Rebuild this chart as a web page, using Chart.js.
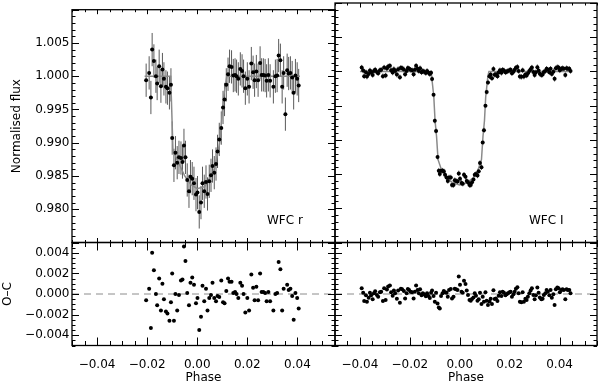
<!DOCTYPE html>
<html><head><meta charset="utf-8">
<script src="https://cdn.jsdelivr.net/npm/chart.js@4/dist/chart.umd.min.js"></script>
<style>
html,body{margin:0;padding:0;background:#fff;}
#wrap{position:relative;width:600px;height:381px;overflow:hidden;background:#fff;}
#wrap canvas{position:absolute;left:0;top:0;width:600px;height:381px;}
</style></head><body>
<div id="wrap">
<canvas id="tl" width="600" height="381"></canvas>
<canvas id="tr" width="600" height="381"></canvas>
<canvas id="bl" width="600" height="381"></canvas>
<canvas id="br" width="600" height="381"></canvas>
</div>
<script>
// ---------------- DATA ----------------
const rPhase = [-0.0204,-0.0192,-0.0185,-0.0180,-0.0173,-0.0165,-0.0160,-0.0152,-0.0145,-0.0139,
-0.0133,-0.0125,-0.0119,-0.0111,-0.0105,-0.0100,-0.0093,-0.0087,-0.0080,-0.0073,
-0.0065,-0.0059,-0.0053,-0.0047,-0.0040,-0.0033,-0.0027,-0.0020,-0.0013,-0.0005,
0.0001,0.0008,0.0015,0.0021,0.0028,0.0035,0.0041,0.0048,0.0055,0.0061,
0.0068,0.0075,0.0081,0.0088,0.0096,0.0103,0.0109,0.0116,0.0123,0.0129,
0.0137,0.0144,0.0151,0.0157,0.0164,0.0172,0.0179,0.0185,0.0192,0.0200,
0.0207,0.0216,0.0223,0.0229,0.0236,0.0243,0.0251,0.0257,0.0264,0.0271,
0.0277,0.0284,0.0291,0.0304,0.0312,0.0319,0.0325,0.0332,0.0339,0.0345,
0.0352,
0.0359,0.0365,0.0372,0.0379,0.0385,0.0392,0.0399,0.0405];
const rFlux = [0.9994,1.0005,0.9968,1.0040,1.0023,1.0000,0.9989,1.0015,0.9985,1.0010,
0.9996,0.9984,0.9982,0.9975,0.9987,0.9907,0.9866,0.9885,0.9870,0.9878,
0.9877,0.9871,0.9896,0.9878,0.9844,0.9827,0.9849,0.9846,0.9839,0.9822,
0.9825,0.9796,0.9810,0.9839,0.9827,0.9841,0.9823,0.9842,0.9851,0.9865,
0.9855,0.9868,0.9887,0.9905,0.9922,0.9953,0.9965,0.9987,1.0003,1.0015,
1.0014,1.0001,1.0002,1.0000,0.9996,1.0011,1.0008,1.0000,0.9982,0.9996,
0.9984,1.0019,1.0006,0.9994,1.0007,0.9994,1.0020,1.0002,1.0002,1.0001,
0.9993,1.0002,0.9993,0.9984,1.0000,1.0001,1.0031,1.0024,0.9984,1.0005,
0.9943,
1.0009,1.0004,1.0005,0.9998,0.9975,1.0001,0.9996,0.9986];
const rResid = [-0.0006,0.0005,-0.0033,0.0040,0.0023,0.0000,-0.0011,0.0015,-0.0016,0.0010,
-0.0005,-0.0017,-0.0019,-0.0026,-0.0008,0.0020,-0.0026,0.0000,-0.0016,-0.0001,
0.0013,0.0014,0.0046,0.0032,0.0001,-0.0011,0.0011,0.0016,0.0009,-0.0009,
-0.0004,-0.0035,-0.0022,0.0008,-0.0007,0.0005,-0.0016,-0.0004,-0.0001,0.0011,
-0.0004,-0.0007,-0.0002,-0.0003,0.0013,-0.0008,-0.0009,0.0003,0.0015,0.0012,
0.0012,0.0001,0.0002,0.0000,-0.0004,0.0011,0.0008,0.0000,-0.0018,-0.0004,
-0.0016,0.0019,0.0006,-0.0006,0.0007,-0.0006,0.0020,0.0002,0.0002,0.0001,
-0.0007,0.0002,-0.0007,-0.0016,0.0000,0.0001,0.0031,0.0024,-0.0016,0.0005,
-0.0057,
0.0009,0.0004,0.0005,-0.0002,-0.0025,0.0001,-0.0004,-0.0014];
const rErr = 0.0025;
const rModelPhase = [-0.0210,-0.0106,-0.0097,-0.0080,-0.0050,-0.0025,0.0000,0.0030,0.0050,0.0070,0.0090,0.0105,0.0118,0.0410];
const rModelFlux  = [1.0000,1.0000,0.9890,0.9874,0.9850,0.9837,0.9831,0.9834,0.9847,0.9862,0.9900,0.9968,1.0000,1.0000];

const iPhase = [-0.0393,-0.0387,-0.0383,-0.0376,-0.0372,-0.0365,-0.0360,-0.0355,-0.0349,-0.0344,
-0.0339,-0.0332,-0.0327,-0.0320,-0.0315,-0.0308,-0.0303,-0.0297,-0.0292,-0.0287,
-0.0280,-0.0275,-0.0269,-0.0264,-0.0259,-0.0252,-0.0247,-0.0240,-0.0236,-0.0231,
-0.0224,-0.0219,-0.0213,-0.0208,-0.0203,-0.0197,-0.0191,-0.0185,-0.0180,-0.0175,
-0.0169,-0.0164,-0.0159,-0.0153,-0.0148,-0.0143,-0.0136,-0.0131,-0.0125,-0.0120,
-0.0115,-0.0111,-0.0105,-0.0100,-0.0095,-0.0089,-0.0084,-0.0080,-0.0075,-0.0069,
-0.0064,-0.0059,-0.0053,-0.0048,-0.0043,-0.0036,-0.0031,-0.0025,-0.0020,-0.0015,
-0.0009,-0.0004,0.0001,0.0007,0.0012,0.0017,0.0023,0.0028,0.0033,0.0039,
0.0044,0.0049,0.0055,0.0060,0.0065,0.0071,0.0076,0.0081,0.0087,0.0092,
0.0097,0.0103,0.0108,0.0113,0.0119,0.0124,0.0129,0.0135,0.0140,0.0145,
0.0151,0.0156,0.0161,0.0167,0.0172,0.0177,0.0183,0.0188,0.0193,0.0199,
0.0204,0.0209,0.0215,0.0220,0.0225,0.0231,0.0236,0.0241,0.0247,0.0252,
0.0257,0.0263,0.0268,0.0273,0.0279,0.0284,0.0289,0.0295,0.0300,0.0305,
0.0311,0.0316,0.0321,0.0327,0.0332,0.0337,0.0343,0.0348,0.0353,0.0359,
0.0364,0.0369,0.0375,0.0380,0.0385,0.0391,0.0396,0.0401,0.0407,0.0412,
0.0417,0.0423,0.0428,0.0433,0.0439,0.0444];
const iFlux = [1.00056,1.00013,0.99931,0.99987,0.99925,0.99964,1.00013,0.99987,0.99948,1.00007,
1.00026,0.99990,0.99974,1.00016,1.00023,0.99931,1.00056,0.99941,1.00043,1.00072,
1.00082,1.00016,0.99984,1.00033,1.00007,0.99954,1.00033,0.99915,1.00052,1.00046,
1.00030,0.99957,1.00007,1.00049,1.00039,1.00023,1.00016,0.99957,1.00023,1.00082,
1.00039,1.00007,1.00046,0.99987,1.00007,0.99997,0.99977,1.00007,0.99980,0.99961,
0.9998,0.9989,0.9966,0.9928,0.9913,0.9875,0.9855,0.9850,0.9855,0.9855,
0.9854,0.9849,0.9845,0.9840,0.9845,0.9845,0.9834,0.9834,0.9841,0.9840,
0.9839,0.9851,0.9843,0.9837,0.9836,0.9849,0.9846,0.9840,0.9838,0.9834,
0.9834,0.9838,0.9842,0.9849,0.9850,0.9848,0.9854,0.9866,0.9860,0.9896,
0.9914,0.9950,0.9970,0.9984,0.99928,0.99954,0.99902,1.00036,0.99951,0.99957,
0.99931,0.99984,1.00016,0.99980,1.00023,1.00013,0.99987,0.99997,1.00007,1.00016,
1.00023,0.99974,0.99997,1.00023,1.00052,1.00066,1.00007,0.99925,0.99921,1.00016,
0.99925,0.99954,0.99941,0.99974,1.00007,1.00033,1.00056,0.99990,0.99948,0.99987,
1.00062,1.00013,0.99967,0.99948,0.99954,0.99990,1.00007,1.00039,1.00023,0.99987,
1.00039,0.99964,0.99997,0.99892,1.00046,1.00062,1.00056,1.00016,1.00039,1.00046,
1.00039,0.99948,1.00046,1.00039,1.00039,1.00007];
const iResid = [0.00056,0.00013,-0.00069,-0.00013,-0.00075,-0.00036,0.00013,-0.00013,-0.00052,0.00007,
0.00026,-0.00010,-0.00026,0.00016,0.00023,-0.00069,0.00056,-0.00059,0.00043,0.00072,
0.00082,0.00016,-0.00016,0.00033,0.00007,-0.00046,0.00033,-0.00085,0.00052,0.00046,
0.00030,-0.00043,0.00007,0.00049,0.00039,0.00023,0.00016,-0.00043,0.00023,0.00082,
0.00039,0.00007,0.00046,-0.00013,0.00007,-0.00003,-0.00023,0.00007,-0.00020,-0.00039,
0.00013,0.00033,-0.00020,-0.00075,0.00013,-0.00092,-0.00131,-0.00141,-0.00020,0.00007,
0.00030,0.00016,0.00013,-0.00026,0.00039,0.00049,-0.00043,-0.00026,0.00052,0.00046,
0.00039,0.00170,0.00089,0.00023,0.00013,0.00128,0.00098,0.00033,-0.00010,-0.00059,
-0.00066,-0.00049,-0.00033,0.00007,-0.00016,-0.00066,-0.00052,0.00013,-0.00098,-0.00026,
-0.00075,0.00016,-0.00066,-0.00108,-0.00072,-0.00046,-0.00098,0.00036,-0.00049,-0.00043,
-0.00069,-0.00016,0.00016,-0.00020,0.00023,0.00013,-0.00013,-0.00003,0.00007,0.00016,
0.00023,-0.00026,-0.00003,0.00023,0.00052,0.00066,0.00007,-0.00075,-0.00079,0.00016,
-0.00075,-0.00046,-0.00059,-0.00026,0.00007,0.00033,0.00056,-0.00010,-0.00052,-0.00013,
0.00062,0.00013,-0.00033,-0.00052,-0.00046,-0.00010,0.00007,0.00039,0.00023,-0.00013,
0.00039,-0.00036,-0.00003,-0.00108,0.00046,0.00062,0.00056,0.00016,0.00039,0.00046,
0.00039,-0.00052,0.00046,0.00039,0.00039,0.00007];
const iErr = 0.0004;
const iModelPhase = [-0.0400,-0.0117,-0.0113,-0.0104,-0.0099,-0.0093,-0.0087,-0.0073,-0.0053,-0.0027,0.0000,0.0027,0.0053,0.0073,0.0087,0.0093,0.0099,0.0104,0.0113,0.0117,0.0445];
const iModelFlux  = [1.0000,1.0000,0.9994,0.9963,0.9928,0.9905,0.9871,0.9856,0.9844,0.9837,0.9834,0.9837,0.9844,0.9856,0.9871,0.9905,0.9928,0.9963,0.9994,1.0000,1.0000];

const phaseTickValues = [-0.04,-0.02,0.00,0.02,0.04];
const phaseTickLabels = ['\u22120.04','\u22120.02','0.00','0.02','0.04'];
const fluxTickValues = [0.980,0.985,0.990,0.995,1.000,1.005];
const fluxTickLabels = ['0.980','0.985','0.990','0.995','1.000','1.005'];
const residTickValues = [-0.004,-0.002,0.000,0.002,0.004];
const residTickLabels = ['\u22120.004','\u22120.002','0.000','0.002','0.004'];
const zeroLine = [-0.05, 0.055];
const panelLabels = ['WFC r', 'WFC I'];

// ---------------- LAYOUT ----------------
const W = 600, HH = 381;
const L = 72, M = 335, R = 597, T = 3, MID = 242.5, B = 345.5;
const XAXIS_EXTRA = 4;   // x axis box extends below the canvas edge so the title sits low
const FONT = "'DejaVu Sans', sans-serif";
Chart.defaults.font.family = FONT;
Chart.defaults.font.size = 12;
Chart.defaults.color = '#000';

const pts = (xs, ys) => xs.map((x, i) => ({x: x, y: ys[i]}));

const framePlugin = {
  id: 'frame',
  afterDatasetsDraw(chart, args, o) {
    const {ctx, chartArea: a, scales: {x, y}} = chart;
    ctx.save();
    ctx.strokeStyle = '#000';
    ctx.lineWidth = 1;
    const vals = (min, max, step) => {
      const out = [];
      for (let k = Math.ceil(min / step - 1e-6); k * step <= max + 1e-9; k++) out.push(k * step);
      return out;
    };
    const isMaj = (v, maj) => Math.abs(v / maj - Math.round(v / maj)) < 1e-6;
    ctx.beginPath();
    for (const v of vals(x.min, x.max, o.xMinor)) {
      const px = Math.round(x.getPixelForValue(v)) + 0.5;
      const len = isMaj(v, o.xMajor) ? o.xLen[0] : o.xLen[1];
      ctx.moveTo(px, a.top); ctx.lineTo(px, a.top + len);
      ctx.moveTo(px, a.bottom); ctx.lineTo(px, a.bottom - len);
    }
    for (const v of vals(y.min, y.max, o.yMinor)) {
      const py = Math.round(y.getPixelForValue(v)) + 0.5;
      const len = isMaj(v, o.yMajor) ? o.yLen[0] : o.yLen[1];
      ctx.moveTo(a.left, py); ctx.lineTo(a.left + len, py);
      ctx.moveTo(a.right, py); ctx.lineTo(a.right - len, py);
    }
    ctx.stroke();
    ctx.lineWidth = 1.3;
    ctx.strokeRect(a.left, a.top, a.right - a.left, a.bottom - a.top);
    if (o.label) {
      ctx.fillStyle = '#000';
      ctx.font = '12px ' + FONT;
      ctx.textBaseline = 'middle';
      ctx.textAlign = 'left';
      ctx.fillText(o.label, a.right - 68, a.bottom - 21.5);
    }
    ctx.restore();
  }
};

const errPlugin = {
  id: 'errbars',
  beforeDatasetsDraw(chart, args, o) {
    if (!o.xs) return;
    const {ctx, chartArea: a, scales: {x, y}} = chart;
    ctx.save();
    ctx.beginPath(); ctx.rect(a.left, a.top, a.right - a.left, a.bottom - a.top); ctx.clip();
    ctx.strokeStyle = o.color; ctx.lineWidth = 1;
    ctx.beginPath();
    o.xs.forEach((xv, i) => {
      const px = x.getPixelForValue(xv);
      ctx.moveTo(px, y.getPixelForValue(o.ys[i] - o.err));
      ctx.lineTo(px, y.getPixelForValue(o.ys[i] + o.err));
    });
    ctx.stroke();
    ctx.restore();
  }
};

function xScale(show) {
  const s = {type: 'linear', min: -0.05, max: 0.055, display: show, position: 'bottom',
    grid: {display: false, drawTicks: false}, border: {display: false}};
  if (show) {
    s.afterFit = sc => { sc.height = HH - B + XAXIS_EXTRA; };
    s.afterBuildTicks = sc => { sc.ticks = phaseTickValues.map(v => ({value: v})); };
    s.ticks = {autoSkip: false, maxRotation: 0, padding: 12.5, color: '#000',
      callback: (v, i) => phaseTickLabels[i]};
    s.title = {display: true, text: 'Phase', color: '#000', padding: {top: 0, bottom: 0}};
  }
  return s;
}

function yScale(show, min, max, tv, tl, title, tpad) {
  const s = {type: 'linear', min: min, max: max, display: show, position: 'left',
    grid: {display: false, drawTicks: false}, border: {display: false}};
  if (show) {
    s.afterFit = sc => { sc.width = L; };
    s.afterBuildTicks = sc => { sc.ticks = tv.map(v => ({value: v})); };
    s.ticks = {autoSkip: false, padding: 2.5, color: '#000', callback: (v, i) => tl[i]};
    s.title = {display: true, text: title, color: '#000', padding: {top: tpad, bottom: 0}};
  }
  return s;
}

function make(id, pad, xs, ys, datasets, frameOpts, errOpts) {
  return new Chart(document.getElementById(id), {
    type: 'scatter',
    data: {datasets: datasets},
    options: {
      responsive: false, animation: false, events: [],
      layout: {padding: pad, autoPadding: false},
      plugins: {legend: {display: false}, tooltip: {enabled: false},
        frame: frameOpts, errbars: errOpts || {}},
      scales: {x: xs, y: ys}
    },
    plugins: [errPlugin, framePlugin]
  });
}

function dataSet(xs, ys) {
  return {type: 'scatter', data: pts(xs, ys), pointRadius: 2, pointBackgroundColor: '#000',
    pointBorderWidth: 0, showLine: false, order: 1};
}
function modelSet(xs, ys) {
  return {type: 'line', data: pts(xs, ys), borderColor: '#8a8a8a', borderWidth: 1.5,
    pointRadius: 0, tension: 0, fill: false, order: 2};
}
function zeroSet() {
  return {type: 'line', data: pts(zeroLine, [0, 0]), borderColor: '#8c8c8c', borderWidth: 1,
    borderDash: [7, 5], pointRadius: 0, fill: false, order: 3};
}

const topTicks = {xMajor: 0.02, xMinor: 0.005, yMajor: 0.005, yMinor: 0.001, xLen: [4.5, 2.5], yLen: [7, 3.5]};
const botTicks = {xMajor: 0.02, xMinor: 0.005, yMajor: 0.002, yMinor: 0.0005, xLen: [8, 4.5], yLen: [7, 3.5]};

make('tl', {left: 0, top: T, right: W - M, bottom: HH - MID},
  xScale(false), yScale(true, 0.975, 1.010, fluxTickValues, fluxTickLabels, 'Normalised flux', 10),
  [dataSet(rPhase, rFlux), modelSet(rModelPhase, rModelFlux)],
  Object.assign({label: panelLabels[0]}, topTicks),
  {xs: rPhase, ys: rFlux, err: rErr, color: '#5a5a5a'});

make('tr', {left: M, top: T, right: W - R, bottom: HH - MID},
  xScale(false), yScale(false, 0.975, 1.010),
  [dataSet(iPhase, iFlux), modelSet(iModelPhase, iModelFlux)],
  Object.assign({label: panelLabels[1]}, topTicks),
  {xs: iPhase, ys: iFlux, err: iErr, color: '#5a5a5a'});

make('bl', {left: 0, top: MID, right: W - M, bottom: -XAXIS_EXTRA},
  xScale(true), yScale(true, -0.005, 0.005, residTickValues, residTickLabels, 'O\u2013C', 0.5),
  [dataSet(rPhase, rResid), zeroSet()],
  botTicks);

make('br', {left: M, top: MID, right: W - R, bottom: -XAXIS_EXTRA},
  xScale(true), yScale(false, -0.005, 0.005),
  [dataSet(iPhase, iResid), zeroSet()],
  botTicks);
</script>
</body></html>
